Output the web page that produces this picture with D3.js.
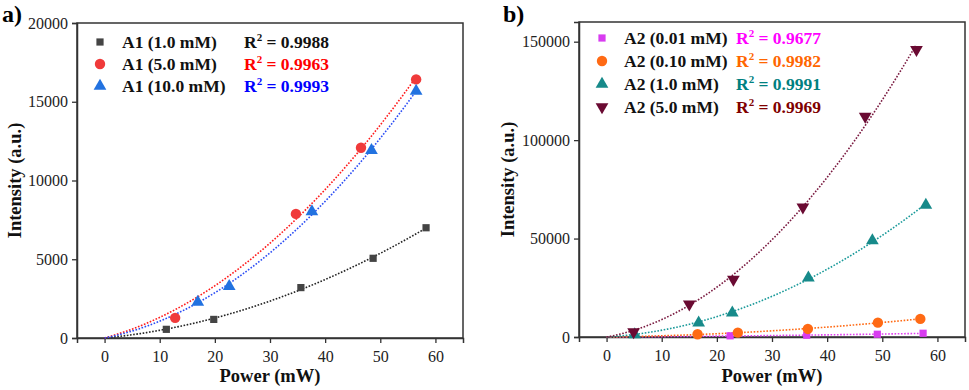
<!DOCTYPE html>
<html>
<head>
<meta charset="utf-8">
<script src="https://cdn.jsdelivr.net/npm/d3@7"></script>
<style>
  body { margin: 0; background: #fff; }
  svg { display: block; font-family: 'Liberation Serif', 'Times New Roman', serif; }
  .ttl { font-weight: bold; font-size: 18.5px; fill: #111; }
  .leg { font-weight: bold; font-size: 17.5px; }
  .tick text { font-family: 'Liberation Serif', 'Times New Roman', serif !important; font-size: 16px !important; }
</style>
</head>
<body>
<svg id="chart" width="969" height="390"></svg>
<script>
// ---- data ----
var xTicks = [0, 10, 20, 30, 40, 50, 60];
var yTicksA = [0, 5000, 10000, 15000, 20000];
var yTicksB = [0, 50000, 100000, 150000];

// panel a) A1
var a1_10_x = [11.2, 19.8, 35.6, 48.7, 58.3];
var a1_10_y = [550, 1180, 3200, 5060, 7000];
var a1_50_x = [12.8, 34.7, 46.5, 56.5];
var a1_50_y = [1280, 7880, 12080, 16420];
var a1_100_x = [16.9, 22.6, 37.6, 48.4, 56.5];
var a1_100_y = [2280, 3280, 8020, 11920, 15670];

// panel b) A2
var a2_001_x = [22.4, 36.3, 49.1, 57.4];
var a2_001_y = [600, 900, 1400, 1900];
var a2_010_x = [16.5, 23.8, 36.5, 49.2, 56.9];
var a2_010_y = [1400, 2200, 4100, 7300, 9200];
var a2_10_x = [5.1, 16.7, 22.8, 36.6, 48.2, 57.9];
var a2_10_y = [1200, 7200, 12300, 30000, 49000, 67000];
var a2_50_x = [4.9, 15.0, 23.0, 35.6, 46.9, 56.2];
var a2_50_y = [2600, 16700, 29200, 65900, 112000, 146000];

var labelsA = ["A1 (1.0 mM)", "A1 (5.0 mM)", "A1 (10.0 mM)"];
var r2A = ["0.9988", "0.9963", "0.9993"];
var labelsB = ["A2 (0.01 mM)", "A2 (0.10 mM)", "A2 (1.0 mM)", "A2 (5.0 mM)"];
var r2B = ["0.9677", "0.9982", "0.9991", "0.9969"];

var svg = d3.select("#chart");

// least squares y = c1*x + c2*x^2 (through origin), clipped at 0
function quadFit(xs, ys) {
  var s2 = d3.sum(xs, function(v) { return v * v; });
  var s3 = d3.sum(xs, function(v) { return v * v * v; });
  var s4 = d3.sum(xs, function(v) { return v * v * v * v; });
  var sxy = d3.sum(xs, function(v, i) { return v * ys[i]; });
  var sx2y = d3.sum(xs, function(v, i) { return v * v * ys[i]; });
  var det = s2 * s4 - s3 * s3;
  var c1 = (sxy * s4 - s3 * sx2y) / det;
  var c2 = (s2 * sx2y - s3 * sxy) / det;
  return function(x) { return Math.max(0, c1 * x + c2 * x * x); };
}

var sym = {
  square: d3.symbol().type(d3.symbolSquare).size(52),
  circle: d3.symbol().type(d3.symbolCircle).size(85),
  tri: d3.symbol().type(d3.symbolTriangle).size(70),
  triDown: d3.symbol().type(d3.symbolTriangle).size(70)
};

function panel(cfg) {
  var x = d3.scaleLinear().domain([-5, 65]).range([cfg.left, cfg.right]);
  var y = d3.scaleLinear().domain(cfg.yDomain).range([cfg.bottom, cfg.top]);
  var g = svg.append("g");

  // frame
  g.append("rect")
    .attr("x", cfg.left).attr("y", cfg.top)
    .attr("width", cfg.right - cfg.left).attr("height", cfg.bottom - cfg.top)
    .attr("fill", "none").attr("stroke", "#333").attr("stroke-width", 1.5);

  var xa = g.append("g").attr("transform", "translate(0," + cfg.bottom + ")")
    .call(d3.axisBottom(x).tickValues(xTicks).tickSize(5).tickPadding(5));
  var ya = g.append("g").attr("transform", "translate(" + cfg.left + ",0)")
    .call(d3.axisLeft(y).tickValues(cfg.yTicks).tickSize(5).tickPadding(4).tickFormat(d3.format("d")));
  [xa, ya].forEach(function(ax) {
    ax.attr("font-family", null).attr("font-size", null);
    ax.select(".domain").attr("stroke", "#333").attr("stroke-width", 1.5);
    ax.selectAll(".tick line").attr("stroke", "#333").attr("stroke-width", 1.3);
    ax.selectAll(".tick text").attr("fill", "#222");
  });
  xa.selectAll("text").attr("dy", "0.9em");

  // titles
  g.append("text").attr("class", "ttl")
    .attr("x", (cfg.left + cfg.right) / 2).attr("y", 382)
    .attr("text-anchor", "middle").text("Power (mW)");
  g.append("text").attr("class", "ttl")
    .attr("transform", "translate(" + cfg.yTitleX + "," + (cfg.top + cfg.bottom) / 2 + ") rotate(-90)")
    .attr("text-anchor", "middle").text("Intensity (a.u.)");
  g.append("text").attr("x", cfg.tagX).attr("y", 22)
    .attr("font-weight", "bold").attr("font-size", "24px").text(cfg.tag);

  // fit curves
  var line = d3.line().x(function(d) { return x(d[0]); }).y(function(d) { return y(d[1]); });
  cfg.series.forEach(function(s) {
    var f = quadFit(s.xs, s.ys);
    var xmax = d3.max(s.xs);
    var pts = d3.range(0, 101).map(function(i) { var xv = xmax * i / 100; return [xv, f(xv)]; });
    g.append("path").attr("d", line(pts)).attr("fill", "none")
      .attr("stroke", s.line).attr("stroke-width", 1.6).attr("stroke-dasharray", "1.6,1.6");
  });
  // markers
  cfg.series.forEach(function(s) {
    g.append("g").selectAll("path").data(s.xs).join("path")
      .attr("d", sym[s.shape]())
      .attr("transform", function(d, i) {
        return "translate(" + x(d) + "," + y(s.ys[i]) + ")" + (s.shape === "triDown" ? " rotate(180)" : "");
      })
      .attr("fill", s.color);
  });

  // legend
  cfg.series.forEach(function(s, i) {
    var ry = cfg.legY + i * cfg.legStep;
    g.append("path").attr("d", sym[s.shape]())
      .attr("transform", "translate(" + cfg.legX + "," + ry + ")" + (s.shape === "triDown" ? " rotate(180)" : ""))
      .attr("fill", s.color);
    g.append("text").attr("class", "leg").attr("x", cfg.legX + 22).attr("y", ry + 6)
      .attr("fill", "#111").text(cfg.labels[i]);
    var t = g.append("text").attr("class", "leg").attr("x", cfg.r2X).attr("y", ry + 6).attr("fill", s.text);
    t.append("tspan").text("R");
    t.append("tspan").attr("font-size", "11px").attr("dy", -7).text("2");
    t.append("tspan").attr("dy", 7).text(" = " + cfg.r2[i]);
  });
}

panel({
  left: 77, right: 463, top: 23, bottom: 338,
  yDomain: [0, 20000], yTicks: yTicksA, yTitleX: 21,
  tag: "a)", tagX: 2,
  legX: 100, legY: 42, legStep: 22, r2X: 244,
  labels: labelsA, r2: r2A,
  series: [
    { xs: a1_10_x, ys: a1_10_y, shape: "square", color: "#444", line: "#222", text: "#111" },
    { xs: a1_50_x, ys: a1_50_y, shape: "circle", color: "#f03a3a", line: "#ff1a1a", text: "#ff0000" },
    { xs: a1_100_x, ys: a1_100_y, shape: "tri", color: "#2272e0", line: "#2a4cf5", text: "#0000ff" }
  ]
});

panel({
  left: 579, right: 965, top: 22, bottom: 337,
  yDomain: [0, 160000], yTicks: yTicksB, yTitleX: 514,
  tag: "b)", tagX: 503,
  legX: 602, legY: 38, legStep: 23, r2X: 736,
  labels: labelsB, r2: r2B,
  series: [
    { xs: a2_001_x, ys: a2_001_y, shape: "square", color: "#d83cf0", line: "#e040f0", text: "#ff00ff" },
    { xs: a2_010_x, ys: a2_010_y, shape: "circle", color: "#ff6a14", line: "#ff6a14", text: "#ff6600" },
    { xs: a2_10_x, ys: a2_10_y, shape: "tri", color: "#178a8a", line: "#1a9a9a", text: "#008080" },
    { xs: a2_50_x, ys: a2_50_y, shape: "triDown", color: "#6a0a32", line: "#7a1a40", text: "#800000" }
  ]
});
</script>
</body>
</html>
